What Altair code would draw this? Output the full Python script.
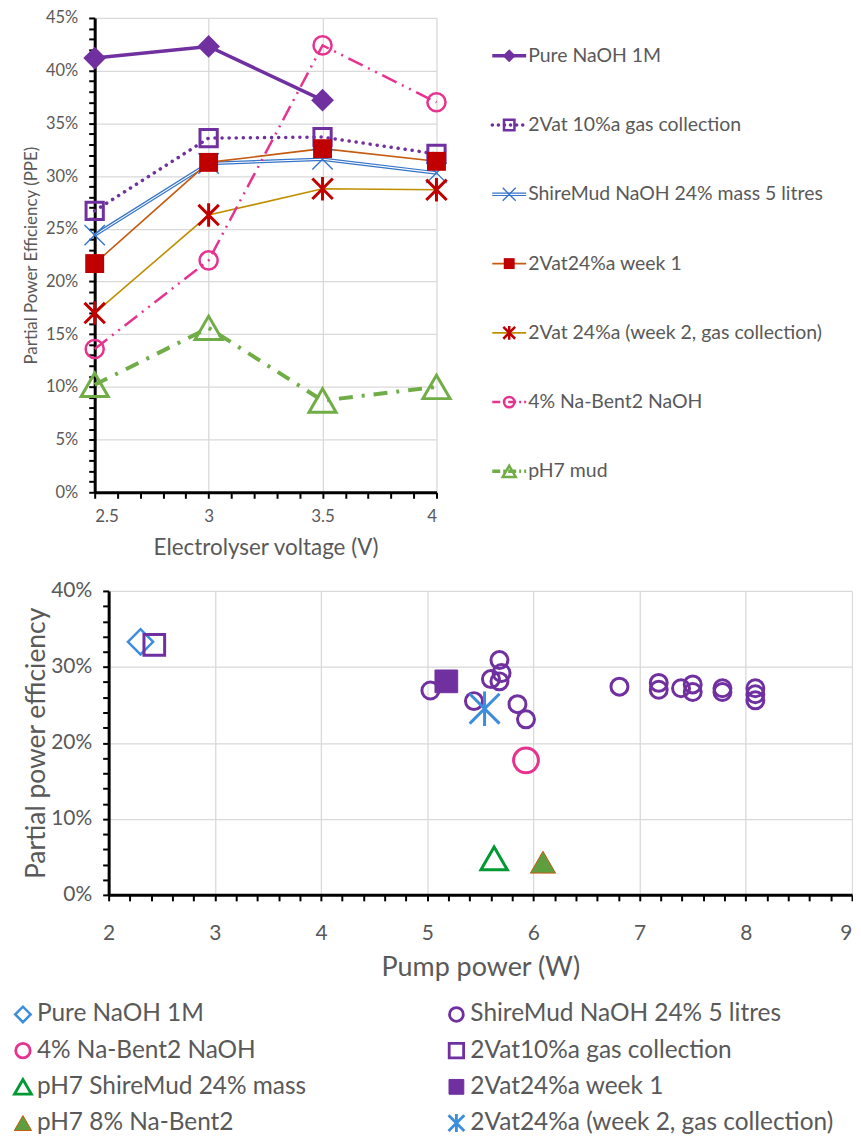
import altair as alt
import pandas as pd

FONT = "Lato"
GREY = "#595959"
GRID = "#d9d9d9"

# ---------------- top chart data ----------------
VOLTAGE = [2.5, 3.0, 3.5, 4.0]
TOP_SERIES = [
    "Pure NaOH 1M",
    "2Vat 10%a gas collection",
    "ShireMud NaOH 24% mass 5 litres",
    "2Vat24%a week 1",
    "2Vat 24%a (week 2, gas collection)",
    "4% Na-Bent2 NaOH",
    "pH7 mud",
]
PPE_PURE_NAOH = [0.412, 0.423, 0.372, None]
PPE_2VAT10 = [0.267, 0.336, 0.337, 0.321]
PPE_SHIREMUD = [0.244, 0.312, 0.316, 0.303]
PPE_2VAT24_W1 = [0.217, 0.313, 0.326, 0.314]
PPE_2VAT24_W2 = [0.170, 0.263, 0.288, 0.287]
PPE_NABENT2 = [0.136, 0.220, 0.424, 0.370]
PPE_PH7_MUD = [0.102, 0.156, 0.087, 0.100]
TOP_VALUES = [PPE_PURE_NAOH, PPE_2VAT10, PPE_SHIREMUD, PPE_2VAT24_W1,
              PPE_2VAT24_W2, PPE_NABENT2, PPE_PH7_MUD]

TOP_X_TICKS = [round(2.5 + 0.1 * i, 1) for i in range(16)]
TOP_Y_TICKS = [round(0.01 * i, 2) for i in range(46)]

# ---------------- bottom chart data ----------------
BOTTOM_SERIES = [
    "Pure NaOH 1M",
    "ShireMud NaOH 24% 5 litres",
    "4% Na-Bent2 NaOH",
    "2Vat10%a gas collection",
    "pH7 ShireMud 24% mass",
    "2Vat24%a week 1",
    "pH7 8% Na-Bent2",
    "2Vat24%a (week 2, gas collection)",
]
PUMP_PURE_NAOH = [2.30]
EFF_PURE_NAOH = [0.333]
PUMP_SHIREMUD = [5.03, 5.68, 5.70, 5.60, 5.68, 5.44, 5.85, 5.93, 6.81, 7.18,
                 7.18, 7.39, 7.50, 7.50, 7.78, 7.78, 8.09, 8.09, 8.09]
EFF_SHIREMUD = [0.269, 0.309, 0.292, 0.284, 0.281, 0.255, 0.251, 0.231, 0.274,
                0.279, 0.270, 0.272, 0.277, 0.267, 0.272, 0.267, 0.272, 0.264, 0.256]
PUMP_NABENT2 = [5.93]
EFF_NABENT2 = [0.177]
PUMP_2VAT10 = [2.43]
EFF_2VAT10 = [0.329]
PUMP_PH7_SHIREMUD = [5.63]
EFF_PH7_SHIREMUD = [0.048]
PUMP_2VAT24_W1 = [5.18]
EFF_2VAT24_W1 = [0.281]
PUMP_PH7_NABENT = [6.09]
EFF_PH7_NABENT = [0.043]
PUMP_2VAT24_W2 = [5.54]
EFF_2VAT24_W2 = [0.245]
BOTTOM_VALUES = [
    (PUMP_PURE_NAOH, EFF_PURE_NAOH),
    (PUMP_SHIREMUD, EFF_SHIREMUD),
    (PUMP_NABENT2, EFF_NABENT2),
    (PUMP_2VAT10, EFF_2VAT10),
    (PUMP_PH7_SHIREMUD, EFF_PH7_SHIREMUD),
    (PUMP_2VAT24_W1, EFF_2VAT24_W1),
    (PUMP_PH7_NABENT, EFF_PH7_NABENT),
    (PUMP_2VAT24_W2, EFF_2VAT24_W2),
]
BOTTOM_X_TICKS = [round(2 + 0.2 * i, 1) for i in range(36)]
BOTTOM_Y_TICKS = [round(0.02 * i, 2) for i in range(21)]

# ---------------- styles ----------------
XPATH = "M-1,-1L1,1M-1,1L1,-1"
STAR = "M-1,-1L1,1M-1,1L1,-1M0,-1.15L0,1.15"

TOP_STYLE = [
    dict(line="#7030A0", width=3.5, dash=None, cap="butt", mark="#7030A0", shape="diamond", size=520, filled=True, mw=1, lsize=170),
    dict(line="#7030A0", width=3.5, dash=[0.1, 7], cap="round", mark="#7030A0", shape="square", size=300, filled=False, mw=3, lsize=110),
    dict(line="#3574C8", width=3.6, dash=None, cap="butt", mark="#3574C8", shape=XPATH, size=420, filled=False, mw=1.4, lsize=170, double=True),
    dict(line="#C55A11", width=1.6, dash=None, cap="butt", mark="#C00000", shape="square", size=360, filled=True, mw=1, lsize=120),
    dict(line="#BF8F00", width=1.6, dash=None, cap="butt", mark="#C00000", shape=STAR, size=420, filled=False, mw=3, lsize=140),
    dict(line="#E6338F", width=2.5, dash=[16, 6, 2, 6, 2, 6], cap="butt", mark="#E6338F", shape="circle", size=330, filled=False, mw=2.5, lsize=110),
    dict(line="#70AD47", width=4, dash=[14, 9, 3, 9], cap="butt", mark="#70AD47", shape="triangle-up", size=740, filled=False, mw=3, lsize=170),
]

BOTTOM_STYLE = [
    dict(shape="diamond", size=640, stroke="#3C8DDB", fill=None, sw=2.5, lsize=240),
    dict(shape="circle", size=290, stroke="#7030A0", fill=None, sw=3, lsize=190),
    dict(shape="circle", size=620, stroke="#E6338F", fill=None, sw=3, lsize=210),
    dict(shape="square", size=430, stroke="#7030A0", fill=None, sw=3, lsize=210),
    dict(shape="triangle-up", size=700, stroke="#009933", fill=None, sw=3, lsize=290),
    dict(shape="square", size=520, stroke="#7030A0", fill="#7030A0", sw=1, lsize=220),
    dict(shape="triangle-up", size=640, stroke="#C55A11", fill="#5F9E3F", sw=1, lsize=300),
    dict(shape=STAR, size=900, stroke="#3C8DDB", fill=None, sw=3, lsize=250),
]


def axis_common(**kw):
    base = dict(
        labelFont=FONT, titleFont=FONT, labelColor=GREY, titleColor=GREY,
        titleFontWeight="normal", domainColor="black", domainWidth=3,
        tickColor="black", tickWidth=2, tickSize=6, gridColor=GRID, gridWidth=1.3,
        labelOverlap=False,
    )
    base.update(kw)
    return alt.Axis(**base)


# ---------------- top chart ----------------
rows = []
for name, vals in zip(TOP_SERIES, TOP_VALUES):
    for v, p in zip(VOLTAGE, vals):
        if p is not None:
            rows.append({"series": name, "voltage": v, "ppe": p})
top_df = pd.DataFrame(rows)

SHIFT = 14  # top panel sits 14px left of the lower panel's plot edge
x_top = alt.X(
    "voltage:Q", title="Electrolyser voltage (V)",
    scale=alt.Scale(domain=[2.5, 4.0], nice=False, zero=False, range=[-SHIFT, 343 - SHIFT]),
    axis=axis_common(
        values=TOP_X_TICKS,
        labelExpr="abs(datum.value*2 - round(datum.value*2)) < 0.001 ? format(datum.value, '~g') : ''",
        gridOpacity={"condition": {"test": "abs(datum.value*2 - round(datum.value*2)) < 0.001", "value": 1}, "value": 0},
        labelFontSize=17, titleFontSize=22.5, labelPadding=10, titlePadding=12,
    ),
)
y_top = alt.Y(
    "ppe:Q", title="Partial Power Efficiency (PPE)",
    scale=alt.Scale(domain=[0, 0.45], nice=False),
    axis=axis_common(
        values=TOP_Y_TICKS, offset=SHIFT,
        labelExpr="round(datum.value*100) % 5 == 0 ? format(datum.value, '.0%') : ''",
        gridOpacity={"condition": {"test": "round(datum.value*100) % 5 == 0", "value": 1}, "value": 0},
        labelFontSize=16.5, titleFontSize=17, labelPadding=11, titlePadding=5,
    ),
)

top_layers = []
for name, st in zip(TOP_SERIES, TOP_STYLE):
    d = top_df[top_df.series == name]
    base = alt.Chart(d).encode(x=x_top, y=y_top)
    kw = dict(color=st["line"], strokeWidth=st["width"], strokeCap=st["cap"])
    if st["dash"]:
        kw["strokeDash"] = st["dash"]
    top_layers.append(base.mark_line(**kw))
    if st.get("double"):
        top_layers.append(base.mark_line(color="white", strokeWidth=1.1))
for name, st in zip(TOP_SERIES, TOP_STYLE):
    d = top_df[top_df.series == name]
    base = alt.Chart(d).encode(x=x_top, y=y_top)
    top_layers.append(base.mark_point(
        shape=st["shape"], size=st["size"], filled=st["filled"], color=st["mark"],
        strokeWidth=st["mw"], opacity=1))
top_chart = alt.layer(*top_layers).properties(width=343, height=476)

# top custom legend
leg_df = pd.DataFrame({"series": TOP_SERIES})
y_leg = alt.Y("series:N", scale=alt.Scale(type="point", domain=TOP_SERIES, range=[38, 455], padding=0), axis=None)
leg_layers = []
for name, st in zip(TOP_SERIES, TOP_STYLE):
    b = alt.Chart(leg_df).transform_filter(alt.datum.series == name)
    kw = dict(color=st["line"], strokeWidth=min(st["width"], 3.5), strokeCap=st["cap"])
    if st["dash"]:
        kw["strokeDash"] = [0.1, 6] if st["cap"] == "round" else [8, 3, 2, 3]
    leg_layers.append(b.mark_rule(**kw).encode(x=alt.value(0), x2=alt.value(34), y=y_leg))
    if st.get("double"):
        leg_layers.append(b.mark_rule(color="white", strokeWidth=1.1).encode(x=alt.value(0), x2=alt.value(34), y=y_leg))
    leg_layers.append(b.mark_point(
        shape=st["shape"], size=st["lsize"], filled=st["filled"], color=st["mark"],
        strokeWidth=min(st["mw"], 2.5), opacity=1).encode(x=alt.value(17), y=y_leg))
leg_layers.append(alt.Chart(leg_df).mark_text(
    align="left", baseline="middle", font=FONT, fontSize=19.5, color=GREY
).encode(x=alt.value(36), y=y_leg, text="series:N"))
top_legend = alt.layer(*leg_layers).properties(width=320, height=476)

# ---------------- bottom chart ----------------
x_bot = alt.X(
    "pump:Q", title="Pump power (W)",
    scale=alt.Scale(domain=[2, 9], nice=False, zero=False),
    axis=axis_common(
        values=BOTTOM_X_TICKS,
        labelExpr="abs(datum.value - round(datum.value)) < 0.001 ? format(datum.value, '~g') : ''",
        gridOpacity={"condition": {"test": "abs(datum.value - round(datum.value)) < 0.001", "value": 1}, "value": 0},
        labelAlign={"condition": {"test": "datum.value > 8.9", "value": "right"}, "value": "center"},
        labelFontSize=21, titleFontSize=27, labelPadding=22, titlePadding=11,
    ),
)
y_bot = alt.Y(
    "eff:Q", title="Partial power efficiency",
    scale=alt.Scale(domain=[0, 0.40], nice=False),
    axis=axis_common(
        values=BOTTOM_Y_TICKS,
        labelExpr="round(datum.value*100) % 10 == 0 ? format(datum.value, '.0%') : ''",
        gridOpacity={"condition": {"test": "round(datum.value*100) % 10 == 0", "value": 1}, "value": 0},
        labelFontSize=21, titleFontSize=26.5, labelPadding=11, titlePadding=0,
    ),
)
bot_layers = []
for name, (px, py), st in zip(BOTTOM_SERIES, BOTTOM_VALUES, BOTTOM_STYLE):
    d = pd.DataFrame({"series": name, "pump": px, "eff": py})
    kw = dict(shape=st["shape"], size=st["size"], stroke=st["stroke"],
              strokeWidth=st["sw"], opacity=1)
    if st["fill"]:
        kw["fill"] = st["fill"]
        kw["filled"] = True
    else:
        kw["filled"] = False
    bot_layers.append(alt.Chart(d).mark_point(**kw).encode(x=x_bot, y=y_bot))
bottom_chart = alt.layer(*bot_layers).properties(width=746, height=305)

# bottom custom legend (positions relative to the bottom plot's left edge)
bleg_df = pd.DataFrame({
    "series": BOTTOM_SERIES,
    "col": [i % 2 for i in range(len(BOTTOM_SERIES))],
    "row": [i // 2 for i in range(len(BOTTOM_SERIES))],
})
x_bl = alt.X("col:O", scale=alt.Scale(type="point", domain=[0, 1], range=[-86, 349], padding=0), axis=None)
y_bl = alt.Y("row:O", scale=alt.Scale(type="point", domain=[0, 1, 2, 3], range=[10, 119], padding=0), axis=None)
bl_layers = []
for name, st in zip(BOTTOM_SERIES, BOTTOM_STYLE):
    b = alt.Chart(bleg_df).transform_filter(alt.datum.series == name)
    kw = dict(shape=st["shape"], size=st["lsize"], stroke=st["stroke"],
              strokeWidth=min(st["sw"], 2.8), opacity=1)
    if st["fill"]:
        kw["fill"] = st["fill"]
        kw["filled"] = True
    else:
        kw["filled"] = False
    bl_layers.append(b.mark_point(**kw).encode(x=x_bl, y=y_bl))
bl_layers.append(alt.Chart(bleg_df).mark_text(
    align="left", baseline="middle", font=FONT, fontSize=24.5, color=GREY,
    dx=14, limit=380, ellipsis=""
).encode(x=x_bl, y=y_bl, text="series:N"))
bottom_legend = alt.layer(*bl_layers).properties(width=740, height=124)

top_row = alt.hconcat(top_chart, top_legend, spacing=34).resolve_scale(x="independent", y="independent")

chart = alt.vconcat(top_row, bottom_chart, bottom_legend, spacing=21).resolve_scale(
    x="independent", y="independent"
).properties(padding=0).configure(font=FONT).configure_view(stroke="transparent", strokeWidth=0)

chart.save("out.html", embed_options={"renderer": "svg", "actions": False})
